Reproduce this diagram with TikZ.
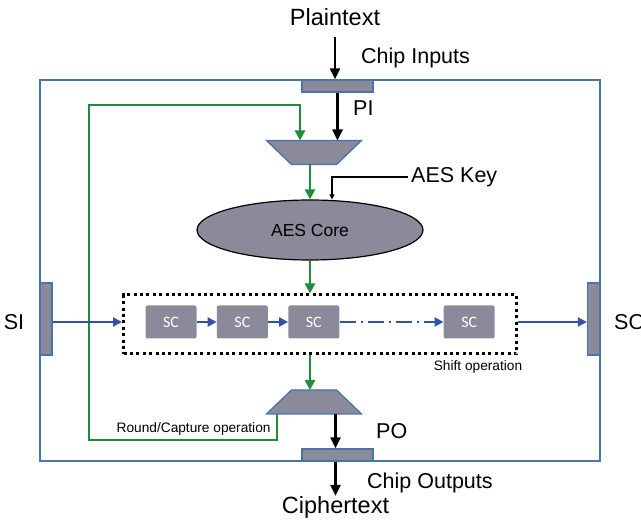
\documentclass[tikz,border=0pt]{standalone}
\usepackage{fontspec}
\setmainfont{Liberation Sans}
\newfontfamily\cellfont{Carlito}
\usetikzlibrary{
  arrows.meta,
  positioning,
  shapes.geometric
}
\definecolor{chipblue}{HTML}{4A74A6}
\definecolor{padgray}{HTML}{8A8A9A}
\definecolor{loopgreen}{HTML}{1E8E3E}
\definecolor{shiftblue}{HTML}{2F51AA}

\begin{document}
\begin{tikzpicture}[
  x=1pt, y=1pt,
  node distance=20pt,
  pad/.style={draw=chipblue, fill=padgray, line width=1.3pt, inner sep=0pt},
  mux/.style={trapezium, draw=chipblue, fill=padgray, line width=1.3pt, inner sep=1pt,
    trapezium stretches=true, trapezium angle=61, minimum width=95pt, minimum height=24pt},
  cell/.style={fill=padgray, rounded corners=2pt, minimum width=51pt, minimum height=33pt,
    font=\cellfont\fontsize{16}{16}\selectfont, text=white},
  bigtxt/.style={font=\fontsize{23.5}{26}\selectfont, inner sep=0pt},
  midtxt/.style={font=\fontsize{21.5}{24}\selectfont, inner sep=0pt},
  tinytxt/.style={font=\fontsize{13.7}{15}\selectfont, inner sep=0pt},
  arrow/.style={-{Triangle[length=11pt, width=10pt]}, line width=2.5pt},
  garrow/.style={-{Triangle[length=10pt, width=10pt]}, line width=2.5pt, loopgreen},
  barrow/.style={-{Triangle[length=9pt, width=9pt]}, line width=2pt, shiftblue},
  karrow/.style={-{Triangle[length=5pt, width=5pt]}, line width=2pt}
]

  \useasboundingbox (0,0) rectangle (641,520);

  % Chip and pads
  \node[draw=chipblue, line width=1.3pt, minimum width=560pt, minimum height=381pt,
    inner sep=0pt] (chip) at (320,249.5) {};
  \node[pad, minimum width=71pt, minimum height=12pt] (pipad) at (337.5,434) {};
  \node[pad, minimum width=71pt, minimum height=12pt] (popad) at (337.5,65) {};
  \node[pad, minimum width=12pt, minimum height=72pt] (sipad) at (46,201) {};
  \node[pad, minimum width=12pt, minimum height=72pt] (sopad) at (593.5,201) {};

  % Labels outside
  \node[bigtxt] (plain) at (335,503) {Plaintext};
  \node[midtxt, anchor=west] (lbl_ci) at (361,462) {Chip Inputs};
  \node[midtxt, anchor=west] (lbl_pi) at (353,412) {PI};
  \node[bigtxt] (cipher) at (335.5,13) {Ciphertext};
  \node[midtxt, anchor=west] (lbl_co) at (367,37) {Chip Outputs};
  \node[midtxt, anchor=west] (lbl_po) at (376,89) {PO};
  \node[midtxt] (lbl_si) at (14,198) {SI};
  \node[midtxt, anchor=west] (lbl_so) at (614,198) {SO};

  % Muxes and core
  \node[mux, shape border rotate=180] (muxin) at (314,367.5) {};
  \node[mux] (muxout) at (314,118) {};
  \node[ellipse, draw, line width=1.2pt, fill=padgray, minimum width=226pt,
    minimum height=60pt, font=\fontsize{17.5}{20}\selectfont] (core) at (310,290) {AES Core};
  \node[midtxt, anchor=west, inner sep=3pt] (key) at (408,343) {AES Key};

  % Scan chain
  \node[draw, line width=3pt, dash pattern=on 3pt off 3.4pt, minimum width=393pt,
    minimum height=59pt] (sreg) at (320,195.5) {};
  \node[cell] (sc1) at (171,198) {SC};
  \node[cell, right=20pt of sc1] (sc2) {SC};
  \node[cell, right=20pt of sc2] (sc3) {SC};
  \node[cell, right=104pt of sc3] (sc4) {SC};
  \node[tinytxt] (lbl_shift) at (478,153.3) {Shift operation};
  \node[tinytxt, anchor=west] (lbl_round) at (116.5,91) {Round/Capture operation};

  % Data path
  \draw[arrow, shorten <=11pt] (plain.south) -- (plain.south |- pipad.north);
  \draw[arrow] (pipad.south) -- ([yshift=12pt]muxin.center -| pipad.south);
  \draw[garrow] ([yshift=-12pt]muxin.center -| core.north) -- (core.north);
  \draw[karrow] (key.west) -| ([xshift=22pt]core.north);
  \draw[garrow] (core.south) -- (core.south |- sreg.north);
  \draw[garrow] (core.south |- sreg.south) -- ([yshift=12pt]muxout.center -| core.south);
  \draw[arrow] ([yshift=-12pt]muxout.center -| cipher.north) -- (popad.north -| cipher.north);
  \draw[arrow] (popad.south -| cipher.north) -- (cipher.north);

  % Capture loop
  \draw[garrow] ([shift={(-37pt,-12pt)}]muxout.center) |- (89,80) -- (89,415)
    -| ([shift={(-14pt,12pt)}]muxin.center);

  % Shift path
  \draw[barrow] (sipad.east |- sc1) -- (sreg.west |- sc1);
  \draw[barrow] (sc1) -- (sc2);
  \draw[barrow] (sc2) -- (sc3);
  \draw[barrow, dash pattern=on 16pt off 5pt on 2pt off 5pt] (sc3) -- (sc4);
  \draw[barrow] (sreg.east |- sc4) -- (sopad.west |- sc4);

\end{tikzpicture}
\end{document}
